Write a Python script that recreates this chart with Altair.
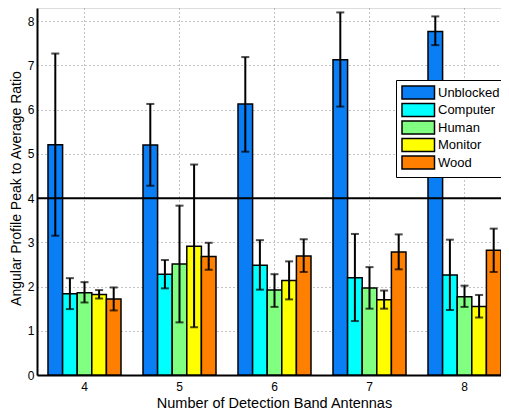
import altair as alt
import pandas as pd

groups = [4, 5, 6, 7, 8]
series = ["Unblocked", "Computer", "Human", "Monitor", "Wood"]
colors = ["#0A7EF5", "#00FFFF", "#80FF80", "#FFFF00", "#FF8000"]

mean_unblocked = [5.21, 5.20, 6.13, 7.13, 7.77]
lo_unblocked = [3.15, 4.28, 5.05, 6.07, 7.46]
hi_unblocked = [7.27, 6.13, 7.19, 8.20, 8.11]

mean_computer = [1.84, 2.28, 2.48, 2.20, 2.26]
lo_computer = [1.49, 1.96, 1.93, 1.22, 1.47]
hi_computer = [2.19, 2.60, 3.05, 3.19, 3.06]

mean_human = [1.86, 2.51, 1.92, 1.97, 1.77]
lo_human = [1.64, 1.19, 1.54, 1.50, 1.54]
hi_human = [2.10, 3.83, 2.28, 2.44, 2.02]

mean_monitor = [1.82, 2.91, 2.14, 1.70, 1.55]
lo_monitor = [1.73, 1.08, 1.71, 1.50, 1.30]
hi_monitor = [1.92, 4.76, 2.57, 1.91, 1.81]

mean_wood = [1.72, 2.68, 2.69, 2.78, 2.82]
lo_wood = [1.46, 2.38, 2.33, 2.39, 2.33]
hi_wood = [1.98, 2.99, 3.07, 3.18, 3.31]

threshold = [4]

means = [mean_unblocked, mean_computer, mean_human, mean_monitor, mean_wood]
los = [lo_unblocked, lo_computer, lo_human, lo_monitor, lo_wood]
his = [hi_unblocked, hi_computer, hi_human, hi_monitor, hi_wood]

rows = []
for s, m, l, h in zip(series, means, los, his):
    for g, mv, lv, hv in zip(groups, m, l, h):
        rows.append({"group": g, "series": s, "mean": mv, "lo": lv, "hi": hv})
df = pd.DataFrame(rows)

FONT = "Liberation Sans"

xenc = alt.X(
    "group:O",
    title="Number of Detection Band Antennas",
    scale=alt.Scale(paddingInner=0.2316, paddingOuter=0.0579, align=1),
    axis=alt.Axis(
        labelAngle=0, labelFontSize=12, labelFont=FONT, labelColor="#000",
        titleFontSize=14.5, titleFont=FONT, titleFontWeight="normal", titleColor="#000",
        domainColor="#000", domainWidth=2, ticks=False, labelPadding=6,
        grid=True, gridColor="#888", gridDash=[1, 3], gridWidth=1, bandPosition=0.5,
        titlePadding=4, titleX=237,
    ),
)
yscale = alt.Scale(domain=[0, 8.3], nice=False)
yaxis = alt.Axis(
    values=[0, 1, 2, 3, 4, 5, 6, 7, 8], labelFontSize=12, labelFont=FONT, labelColor="#000",
    titleFontSize=14, titleFont=FONT, titleFontWeight="normal", titleColor="#000",
    domainColor="#000", domainWidth=2, ticks=False, labelPadding=3,
    grid=True, gridColor="#888", gridDash=[1, 3], gridWidth=1, titlePadding=4,
    titleY=180,
)
xoff = alt.XOffset("series:N", sort=series, scale=alt.Scale(paddingInner=0, paddingOuter=0))

bars = alt.Chart(df).mark_bar(stroke="#000", strokeWidth=1.5).encode(
    x=xenc,
    xOffset=xoff,
    y=alt.Y("mean:Q", scale=yscale, axis=yaxis, title="Angular Profile Peak to Average Ratio"),
    color=alt.Color(
        "series:N", sort=series,
        scale=alt.Scale(domain=series, range=colors),
        legend=alt.Legend(
            title=None, orient="none", legendX=359, legendY=72,
            fillColor="#fff", strokeColor="#000", padding=5,
            symbolType="M-1,-1H4V1H-1Z", symbolSize=169,
            symbolStrokeColor="#000", symbolStrokeWidth=1.5, symbolOpacity=1,
            labelFont=FONT, labelFontSize=13, labelColor="#000", labelOffset=22,
            rowPadding=-1.5,
        ),
    ),
)

err = alt.Chart(df).mark_rule(color="#000", strokeWidth=2).encode(
    x="group:O", xOffset=xoff, y=alt.Y("lo:Q", scale=yscale), y2="hi:Q"
)
cap_lo = alt.Chart(df).mark_tick(color="#000", thickness=2, size=8).encode(
    x="group:O", xOffset=xoff, y=alt.Y("lo:Q", scale=yscale)
)
cap_hi = alt.Chart(df).mark_tick(color="#000", thickness=2, size=8).encode(
    x="group:O", xOffset=xoff, y=alt.Y("hi:Q", scale=yscale)
)

thr = alt.Chart(pd.DataFrame({"t": threshold})).mark_rule(color="#000", strokeWidth=2).encode(
    y=alt.Y("t:Q", scale=yscale)
)

chart = alt.layer(bars, thr, err, cap_lo, cap_hi).properties(
    width=464, height=367,
    autosize=alt.AutoSizeParams(type="none"),
    padding={"left": 29, "top": 0, "right": 0, "bottom": 37},
).configure_view(stroke=None).configure(background="#fff")

chart.save("out.html", embed_options={"renderer": "svg", "actions": False})
